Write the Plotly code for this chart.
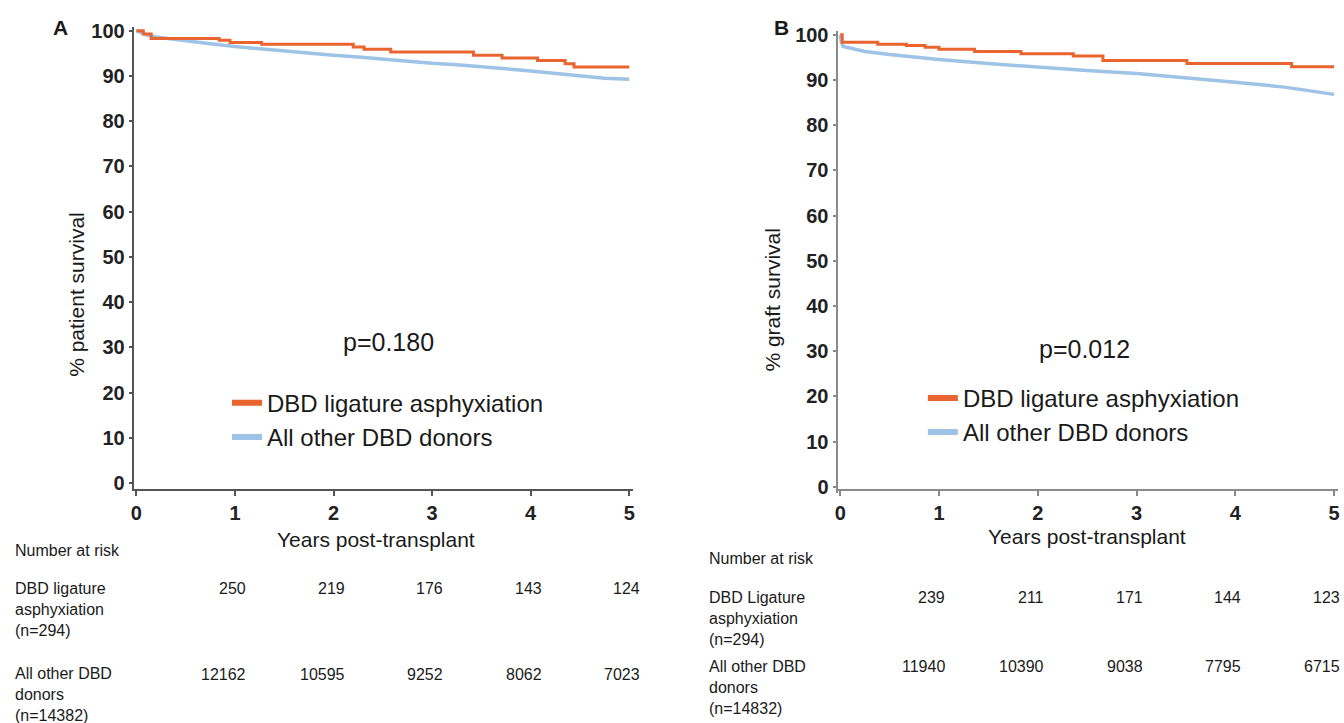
import plotly.graph_objects as go

W, H = 1344, 723
FONT = "Liberation Sans, Arial, sans-serif"
ORANGE = "#E9642E"
BLUE = "#9DC3E6"

# ---------------- data ----------------
years_ticks = [0, 1, 2, 3, 4, 5]
y_ticks = [0, 10, 20, 30, 40, 50, 60, 70, 80, 90, 100]

# Panel A: patient survival
a_lig_t = [0, 0.07, 0.15, 0.84, 0.95, 1.27, 2.20, 2.31, 2.58, 3.42, 3.71, 4.07, 4.35, 4.44, 5.0]
a_lig_v = [100, 99.3, 98.3, 97.9, 97.4, 97.0, 96.4, 95.9, 95.3, 94.6, 94.0, 93.4, 92.7, 92.0, 92.0]
a_oth_t = [0, 0.05, 0.1, 0.2, 0.3, 0.5, 0.75, 1.0, 1.25, 1.5, 1.75, 2.0, 2.25, 2.5, 2.75,
           3.0, 3.25, 3.5, 3.75, 4.0, 4.25, 4.5, 4.75, 5.0]
a_oth_v = [100, 99.5, 99.1, 98.6, 98.3, 97.7, 97.1, 96.5, 96.0, 95.5, 95.0, 94.6, 94.2, 93.7, 93.2,
           92.8, 92.5, 92.1, 91.6, 91.1, 90.6, 90.0, 89.5, 89.3]

# Panel B: graft survival
b_lig_t = [0, 0.02, 0.38, 0.67, 0.86, 1.0, 1.36, 1.83, 2.36, 2.66, 3.51, 4.57, 5.0]
b_lig_v = [100, 98.3, 97.9, 97.6, 97.2, 96.8, 96.3, 95.8, 95.3, 94.3, 93.6, 92.9, 92.9]
b_oth_t = [0, 0.01, 0.03, 0.1, 0.25, 0.5, 0.75, 1.0, 1.5, 2.0, 2.5, 3.0, 3.5, 4.0, 4.5, 5.0]
b_oth_v = [100, 98.5, 97.4, 97.0, 96.3, 95.6, 95.0, 94.5, 93.6, 92.8, 92.1, 91.4, 90.5, 89.5, 88.4, 86.8]

risk_years = [1, 2, 3, 4, 5]
a_risk_lig = [250, 219, 176, 143, 124]
a_risk_oth = [12162, 10595, 9252, 8062, 7023]
b_risk_lig = [239, 211, 171, 144, 123]
b_risk_oth = [11940, 10390, 9038, 7795, 6715]

series_names = ["DBD ligature asphyxiation", "All other DBD donors"]
a_row_labels = ["DBD ligature<br>asphyxiation<br>(n=294)", "All other DBD<br>donors<br>(n=14382)"]
b_row_labels = ["DBD Ligature<br>asphyxiation<br>(n=294)", "All other DBD<br>donors<br>(n=14832)"]
p_values = ["p=0.180", "p=0.012"]


def px(x):
    return x / W


def py(y):
    return 1 - y / H


fig = go.Figure()

# curves
fig.add_trace(go.Scatter(x=a_oth_t, y=a_oth_v, mode="lines", line=dict(color=BLUE, width=3.5),
                         showlegend=False, xaxis="x", yaxis="y"))
fig.add_trace(go.Scatter(x=a_lig_t, y=a_lig_v, mode="lines", line=dict(color=ORANGE, width=3, shape="hv"),
                         showlegend=False, xaxis="x", yaxis="y"))
fig.add_trace(go.Scatter(x=b_oth_t, y=b_oth_v, mode="lines", line=dict(color=BLUE, width=3.5),
                         showlegend=False, xaxis="x2", yaxis="y2"))
fig.add_trace(go.Scatter(x=b_lig_t, y=b_lig_v, mode="lines", line=dict(color=ORANGE, width=3, shape="hv"),
                         showlegend=False, xaxis="x2", yaxis="y2"))

# legend entries (thick samples)
for leg, xa, ya in [("legend", "x", "y"), ("legend2", "x2", "y2")]:
    for name, col in zip(series_names, [ORANGE, BLUE]):
        fig.add_trace(go.Scatter(x=[None], y=[None], mode="lines", name=name,
                                 line=dict(color=col, width=6), legend=leg, xaxis=xa, yaxis=ya))

tickfont = dict(family=FONT, size=20, color="#222222", weight="bold")


def xaxis_cfg(domain, rng, col):
    return dict(domain=domain, range=rng, tickvals=years_ticks, showgrid=False, zeroline=False,
                showline=True, linecolor=col, linewidth=1.5, ticks="outside", ticklen=5,
                tickcolor=col, tickwidth=1.5, tickfont=tickfont, fixedrange=True)


def yaxis_cfg(domain, rng, col, anchor):
    return dict(domain=domain, range=rng, tickvals=y_ticks, showgrid=False, zeroline=False,
                showline=True, linecolor=col, linewidth=1.5, ticks="outside", ticklen=4,
                tickcolor=col, tickwidth=1.5, tickfont=tickfont, anchor=anchor, fixedrange=True)


annotations = []


def ann(text, x, y, size, **kw):
    d = dict(text=text, x=x, y=y, xref="paper", yref="paper", showarrow=False,
             borderpad=0, borderwidth=0,
             font=dict(family=FONT, size=size, color="#1a1a1a"))
    d.update(kw)
    annotations.append(d)


# panel letters
ann("<b>A</b>", px(57), py(21), 21, xanchor="center", yanchor="middle")
ann("<b>B</b>", px(781), py(21), 21, xanchor="center", yanchor="middle")

# axis titles
ann("% patient survival", px(72), py(292), 21, textangle=-90, xanchor="center", yanchor="middle")
ann("% graft survival", px(771), py(298), 21, textangle=-90, xanchor="center", yanchor="middle")
ann("Years post-transplant", px(374), py(541), 21, xanchor="center", yanchor="middle")
ann("Years post-transplant", px(1088), py(538), 21, xanchor="center", yanchor="middle")

# p values
ann(p_values[0], px(386), py(341), 25, xanchor="center", yanchor="middle")
ann(p_values[1], px(1085), py(348), 25, xanchor="center", yanchor="middle")

# number at risk tables
ann("Number at risk", px(11), py(553), 16, xanchor="left", yanchor="middle")
ann("Number at risk", px(708), py(561), 16, xanchor="left", yanchor="middle")
ann(a_row_labels[0], px(11), py(583), 16, xanchor="left", yanchor="top", align="left")
ann(a_row_labels[1], px(11), py(669), 16, xanchor="left", yanchor="top", align="left")
ann(b_row_labels[0], px(708), py(592), 16, xanchor="left", yanchor="top", align="left")
ann(b_row_labels[1], px(708), py(662), 16, xanchor="left", yanchor="top", align="left")

for xr, vals, ypix, shift in [("x", a_risk_lig, 591, 11), ("x", a_risk_oth, 679, 11),
                              ("x2", b_risk_lig, 600, 6), ("x2", b_risk_oth, 671, 6)]:
    for yr, v in zip(risk_years, vals):
        annotations.append(dict(text=str(v), x=yr, y=py(ypix), xref=xr, yref="paper",
                                xanchor="right", yanchor="middle", xshift=shift, showarrow=False,
                                borderpad=0, borderwidth=0,
                                font=dict(family=FONT, size=16, color="#1a1a1a")))

legfont = dict(family=FONT, size=24, color="#1a1a1a")

fig.update_layout(
    width=W, height=H,
    margin=dict(l=0, r=0, t=0, b=0),
    paper_bgcolor="white", plot_bgcolor="white",
    xaxis=xaxis_cfg([px(131), px(632)], [-0.02, 5.04], "#555555"),
    yaxis=yaxis_cfg([py(490), py(20)], [-1.3, 100.9], "#555555", "x"),
    xaxis2=xaxis_cfg([px(838), px(1340)], [-0.02, 5.04], "#8a8a8a"),
    yaxis2=yaxis_cfg([py(494), py(24)], [-1.3, 100.9], "#8a8a8a", "x2"),
    legend=dict(x=px(224), y=py(380), xanchor="left", yanchor="top", font=legfont,
                bgcolor="rgba(0,0,0,0)", itemwidth=30, tracegroupgap=0),
    legend2=dict(x=px(923), y=py(375), xanchor="left", yanchor="top", font=legfont,
                 bgcolor="rgba(0,0,0,0)", itemwidth=30, tracegroupgap=0),
    annotations=annotations,
    font=dict(family=FONT),
)

fig.write_html("out.html", config={"displayModeBar": False},
               post_script="document.body.style.margin='0';")
